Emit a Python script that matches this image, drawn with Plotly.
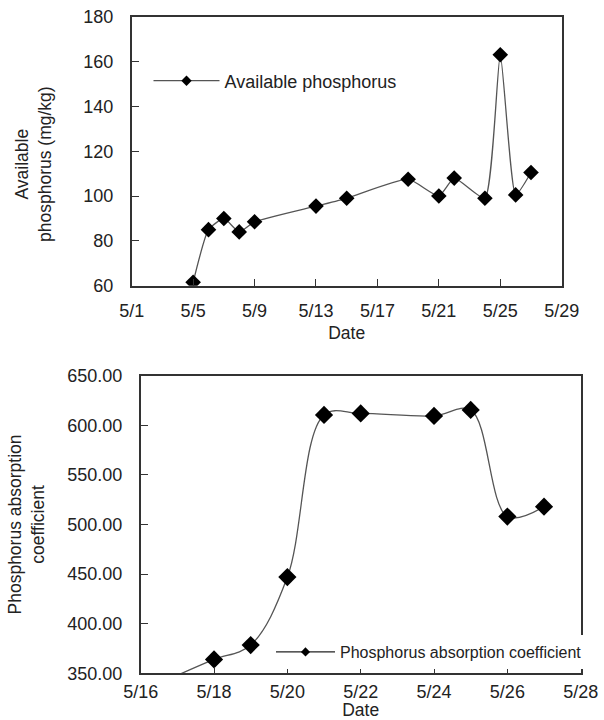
import plotly.graph_objects as go

# ---- data ----
top_dates = ["5/5", "5/6", "5/7", "5/8", "5/9", "5/13", "5/15", "5/19",
             "5/21", "5/22", "5/24", "5/25", "5/26", "5/27"]
available_p = [61.5, 85, 90, 84, 88.5, 95.5, 99, 107.5,
               100, 108, 99, 163, 100.5, 110.5]

bottom_dates = ["5/17", "5/18", "5/19", "5/20", "5/21", "5/22",
                "5/24", "5/25", "5/26", "5/27"]
absorption_coef = [348, 364, 378.5, 447, 610.5, 612, 609.5, 615.5, 508, 518]

top_ticks = ["5/1", "5/5", "5/9", "5/13", "5/17", "5/21", "5/25", "5/29"]
bottom_ticks = ["5/16", "5/18", "5/20", "5/22", "5/24", "5/26", "5/28"]
top_yticks = [60, 80, 100, 120, 140, 160, 180]
bottom_yticks = [350, 400, 450, 500, 550, 600, 650]

top_ytitle = "Available<br>phosphorus (mg/kg)"
bottom_ytitle = "Phosphorus absorption<br>coefficient"
xtitle = "Date"


def day(s):
    return int(s.split("/")[1])


FONT = "Liberation Sans, Arial, sans-serif"
TXT = "#222222"
AX = "#333333"
LINE = "#555555"
W, H = 604, 720

BOT_YMIN = bottom_yticks[0]

fig = go.Figure()

# top chart
fig.add_trace(go.Scatter(
    x=[day(d) for d in top_dates], y=available_p,
    mode="lines+markers", line=dict(color=LINE, width=1.3, shape="spline", smoothing=0.5),
    marker=dict(symbol="diamond", size=12, color="black", opacity=1),
    xaxis="x", yaxis="y", showlegend=False, cliponaxis=True))
fig.add_trace(go.Scatter(
    x=[None], y=[None], name="Available phosphorus",
    mode="lines+markers", line=dict(color=LINE, width=1.3),
    marker=dict(symbol="diamond", size=8, color="black"),
    xaxis="x", yaxis="y", legend="legend"))

# bottom chart (markers below the axis minimum are not drawn, as in the source)
bot_sizes = [14 if v >= BOT_YMIN else 0 for v in absorption_coef]
fig.add_trace(go.Scatter(
    x=[day(d) for d in bottom_dates], y=absorption_coef,
    mode="lines+markers", line=dict(color=LINE, width=1.3, shape="spline", smoothing=1),
    marker=dict(symbol="diamond", size=bot_sizes, color="black", opacity=1,
                line=dict(width=0)),
    xaxis="x2", yaxis="y2", showlegend=False, cliponaxis=True))
fig.add_trace(go.Scatter(
    x=[None], y=[None], name="Phosphorus absorption coefficient",
    mode="lines+markers", line=dict(color="#222222", width=1.3),
    marker=dict(symbol="diamond", size=7, color="black"),
    xaxis="x2", yaxis="y2", legend="legend2"))

axis_common = dict(showline=True, linecolor=AX, linewidth=1.6, mirror=True,
                   ticks="inside", ticklen=7, tickcolor=AX, tickwidth=1.3,
                   showgrid=False, zeroline=False, automargin=False,
                   tickfont=dict(family=FONT, size=18, color=TXT))
title_font = dict(size=17.5, family=FONT, color=TXT)

fig.update_layout(
    width=W, height=H, margin=dict(l=0, r=0, t=0, b=0, autoexpand=False),
    paper_bgcolor="white", plot_bgcolor="white",
    font=dict(family=FONT, color=TXT),
    xaxis=dict(domain=[131.7 / W, 561.7 / W], anchor="y", range=[1, 29],
               tickvals=[day(t) for t in top_ticks], ticktext=top_ticks,
               ticklabelstandoff=8,
               title=dict(text=xtitle, font=title_font, standoff=7),
               **axis_common),
    yaxis=dict(domain=[1 - 285.7 / H, 1 - 16.7 / H], anchor="x", range=[60, 180],
               tickvals=top_yticks, ticktext=[str(v) for v in top_yticks],
               ticklabelstandoff=13,
               **axis_common),
    xaxis2=dict(domain=[140.7 / W, 580.7 / W], anchor="y2", range=[16, 28],
                tickvals=[day(t) for t in bottom_ticks], ticktext=bottom_ticks,
                ticklabelstandoff=1,
                title=dict(text=xtitle, font=title_font, standoff=8),
                **axis_common),
    yaxis2=dict(domain=[1 - 673.3 / H, 1 - 375.7 / H], anchor="x2", range=[350, 650],
                tickvals=bottom_yticks, ticktext=[f"{v:.2f}" for v in bottom_yticks],
                ticklabelstandoff=13,
                title=dict(text=bottom_ytitle, font=title_font, standoff=18),
                **axis_common),
    legend=dict(x=148.5 / W, y=1 - 81 / H, xanchor="left", yanchor="middle",
                bgcolor="rgba(0,0,0,0)", borderwidth=0, itemwidth=66,
                font=dict(family=FONT, size=18, color=TXT)),
    legend2=dict(x=271 / W, y=1 - 652 / H, xanchor="left", yanchor="middle",
                 bgcolor="white", borderwidth=0, itemwidth=59,
                 font=dict(family=FONT, size=16, color=TXT)),
    annotations=[dict(text=top_ytitle, textangle=-90, showarrow=False,
                      xref="paper", yref="paper", x=34 / W, y=1 - 164 / H,
                      xanchor="center", yanchor="middle", font=title_font)],
)

fig.write_html("out.html")
